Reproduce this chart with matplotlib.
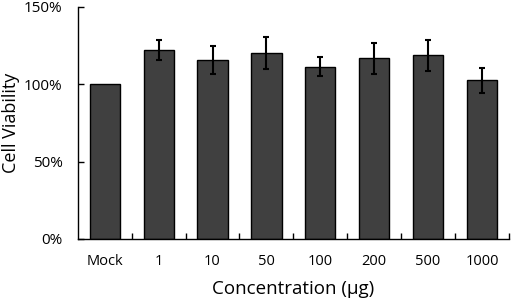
import matplotlib
matplotlib.use("Agg")
import matplotlib.pyplot as plt
from matplotlib.ticker import FixedLocator, PercentFormatter

categories = ["Mock", "1", "10", "50", "100", "200", "500", "1000"]
viability = [100, 122, 115.5, 120, 111.2, 116.6, 118.5, 102.4]
errors = [0, 6.2, 9.2, 10.3, 6.2, 10, 10, 8]
yticks = [0, 50, 100, 150]

plt.rcParams['font.family'] = ['Open Sans', 'DejaVu Sans']

fig = plt.figure(figsize=(5.12, 3.01), dpi=100)
ax = fig.add_axes([0.152, 0.206, 0.842, 0.772])

x = list(range(len(categories)))
ax.bar(x, viability, width=0.56, color="#404040", edgecolor="black", linewidth=1.0)
ex = [i for i in x if errors[i] > 0]
ax.errorbar(ex, [viability[i] for i in ex], yerr=[errors[i] for i in ex], fmt="none",
            ecolor="black", elinewidth=1.5, capsize=2.5, capthick=1.5)

ax.set_xlim(-0.5, len(categories) - 0.5)
ax.set_ylim(0, 150)
ax.set_yticks(yticks)
ax.yaxis.set_major_formatter(PercentFormatter(decimals=0))
ax.set_xticks(x)
ax.set_xticklabels(categories)
ax.xaxis.set_minor_locator(FixedLocator([i + 0.5 for i in x]))

for s in ["top", "right"]:
    ax.spines[s].set_visible(False)
for s in ["left", "bottom"]:
    ax.spines[s].set_color("black")
    ax.spines[s].set_linewidth(1.0)

ax.tick_params(axis="y", direction="in", length=4, width=1, pad=11, labelsize=11, colors="black")
ax.tick_params(axis="x", which="major", length=0, pad=11, labelsize=10.5)
ax.tick_params(axis="x", which="minor", direction="in", length=4, width=1)

ax.set_ylabel("Cell Viability", fontsize=13)
ax.yaxis.set_label_coords(-0.135, 0.5)
ax.set_xlabel("Concentration (μg)", fontsize=13.5, labelpad=8)

fig.savefig("out.png", dpi=100)
